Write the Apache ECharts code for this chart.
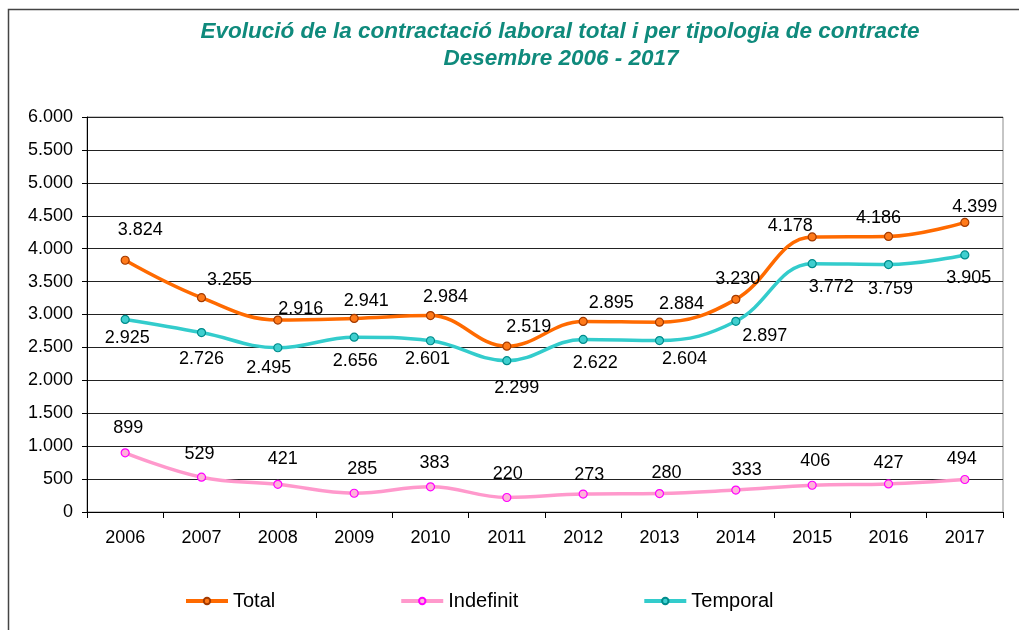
<!DOCTYPE html>
<html>
<head>
<meta charset="utf-8">
<script src="https://cdn.jsdelivr.net/npm/echarts@6/dist/echarts.min.js"></script>
<style>
  html, body { margin: 0; padding: 0; background: #fff; }
  #chart { width: 1019px; height: 630px; }
</style>
</head>
<body>
<div id="chart"></div>
<script>
// dades
const years = ["2006", "2007", "2008", "2009", "2010", "2011", "2012", "2013", "2014", "2015", "2016", "2017"]
const total = [3824, 3255, 2916, 2941, 2984, 2519, 2895, 2884, 3230, 4178, 4186, 4399]
const indefinit = [899, 529, 421, 285, 383, 220, 273, 280, 333, 406, 427, 494]
const temporal = [2925, 2726, 2495, 2656, 2601, 2299, 2622, 2604, 2897, 3772, 3759, 3905]
const yTicks = [0, 500, 1000, 1500, 2000, 2500, 3000, 3500, 4000, 4500, 5000, 5500, 6000]

// desplaçaments de les etiquetes (px respecte del punt)
const totalShift = [[15, -30], [28, -18], [23, -11], [12, -17], [15, -19], [22, -19], [28, -18], [22, -18], [2, -20], [-22, -11], [-10, -18], [10, -15]]
const indefShift = [[3, -25], [-2, -23], [5, -25], [8, -24], [4, -24], [1, -23], [6, -19], [7, -21], [11, -20], [3, -24], [0, -21], [-3, -20]]
const tempShift = [[2, 19], [0, 26], [-9, 20], [1, 24], [-3, 18], [10, 27], [12, 24], [25, 18], [29, 15], [19, 23], [2, 24], [4, 23]]

const FONT = "'Liberation Sans', Arial, sans-serif"
const fmt = v => String(v).replace(/\B(?=(\d{3})+(?!\d))/g, ".")

const withLabels = (values, shifts) =>
  values.map((v, i) => ({ value: v, label: { offset: shifts[i] } }))

const makeSeries = (name, values, shifts, lineColor, fill, border) => ({
  name,
  type: "line",
  smooth: 0.4,
  data: withLabels(values, shifts),
  symbol: "circle",
  symbolSize: 8,
  lineStyle: { color: lineColor, width: 3.5 },
  itemStyle: { color: fill, borderColor: border, borderWidth: 1.2 },
  label: {
    show: true,
    position: "inside",
    color: "#000",
    fontSize: 18,
    fontFamily: FONT,
    formatter: p => fmt(p.value)
  },
  emphasis: { disabled: true },
  z: 3
})

const chartBox = echarts.init(document.getElementById("chart"))

const options = {
  animation: false,
  backgroundColor: "#fff",
  graphic: [
    {
      type: "rect",
      shape: { x: 8.5, y: 9.5, width: 1040, height: 660 },
      style: { fill: "none", stroke: "#444", lineWidth: 1.5 },
      silent: true
    },
    {
      type: "text",
      style: {
        x: 560, y: 32, text: "Evolució de la contractació laboral total i per tipologia de contracte",
        textAlign: "center", textVerticalAlign: "middle",
        font: "italic bold 22.5px " + FONT, fill: "#0f8a7c"
      }
    },
    {
      type: "text",
      style: {
        x: 561, y: 59, text: "Desembre 2006 - 2017",
        textAlign: "center", textVerticalAlign: "middle",
        font: "italic bold 22.5px " + FONT, fill: "#0f8a7c"
      }
    },
    {
      type: "rect",
      shape: { x: 87, y: 117, width: 916, height: 395 },
      style: { fill: "none", stroke: "#8c8c8c", lineWidth: 1 },
      silent: true,
      z: 0
    }
  ],
  legend: {
    top: 586,
    left: 179,
    itemWidth: 42,
    itemHeight: 8,
    itemGap: 124,
    lineStyle: { width: 4 },
    textStyle: { fontSize: 20, fontFamily: FONT, color: "#000" },
    data: ["Total", "Indefinit", "Temporal"]
  },
  grid: { left: 87, right: 16, top: 117, bottom: 118 },
  xAxis: {
    type: "category",
    data: years,
    boundaryGap: true,
    axisLine: { lineStyle: { color: "#000", width: 1 } },
    axisTick: { show: true, length: 6, lineStyle: { color: "#000" } },
    axisLabel: { margin: 17, fontSize: 18, fontFamily: FONT, color: "#000" }
  },
  yAxis: {
    type: "value",
    min: yTicks[0],
    max: yTicks[yTicks.length - 1],
    interval: yTicks[1] - yTicks[0],
    axisLine: { show: true, lineStyle: { color: "#000", width: 1 } },
    axisTick: { show: true, length: 5, lineStyle: { color: "#000" } },
    axisLabel: { margin: 14, fontSize: 18, fontFamily: FONT, color: "#000", formatter: v => fmt(v) },
    splitLine: { show: true, lineStyle: { color: "#222", width: 1 } }
  },
  series: [
    makeSeries("Total", total, totalShift, "#ff6a00", "#ff7a1a", "#a33a00"),
    makeSeries("Indefinit", indefinit, indefShift, "#ff99cc", "#ffb3d9", "#ff00ff"),
    makeSeries("Temporal", temporal, tempShift, "#33cccc", "#3fcfcf", "#008c8c")
  ]
}

chartBox.setOption(options)
</script>
</body>
</html>
